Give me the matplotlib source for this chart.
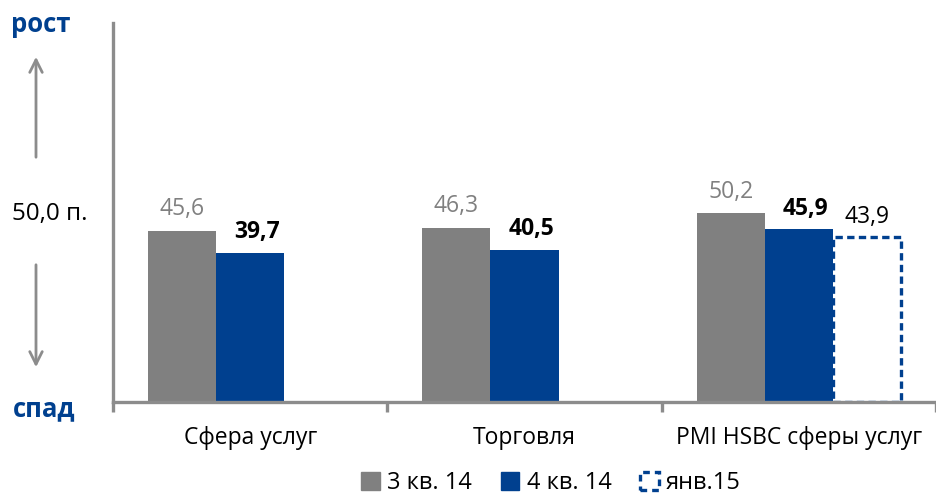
"""PMI bars: services vs trade, Q3/Q4 2014 and Jan 2015."""

import matplotlib

matplotlib.use("Agg")
import matplotlib.pyplot as plt
import numpy as np
from matplotlib.patches import Patch

categories = ["Сфера услуг", "Торговля", "PMI HSBC сферы услуг"]
q3_values = [45.6, 46.3, 50.2]
q4_values = [39.7, 40.5, 45.9]
jan_values = [None, None, 43.9]
series_labels = ["3 кв. 14", "4 кв. 14", "янв.15"]

GRAY = "#808080"
BLUE = "#00408f"
AXIS = "#8c8c8c"

plt.rcParams["font.family"] = ["Open Sans", "DejaVu Sans"]


def fmt(v):
    return f"{v:.1f}".replace(".", ",")


def main() -> None:
    fig = plt.figure(figsize=(9.37, 4.94), dpi=100)
    ax = fig.add_axes([113 / 937, 92 / 494, 823 / 937, 379 / 494])

    x = np.arange(len(categories))
    width = 0.248

    ax.bar(x - width, q3_values, width, color=GRAY, zorder=2)
    ax.bar(x, q4_values, width, color=BLUE, zorder=2)
    for i, v in enumerate(jan_values):
        if v is None:
            continue
        ax.bar(x[i] + width, v, width, facecolor="white", edgecolor=BLUE,
               linewidth=2.4, linestyle=(0, (2.2, 1.3)), zorder=1)

    for i in range(len(categories)):
        ax.annotate(fmt(q3_values[i]), (x[i] - width, q3_values[i]), xytext=(0, 7),
                    textcoords="offset points", ha="center", va="bottom", fontsize=16.5, color=GRAY)
        ax.annotate(fmt(q4_values[i]), (x[i] + 0.025, q4_values[i]), xytext=(0, 6),
                    textcoords="offset points", ha="center", va="bottom", fontsize=16.5,
                    color="black", fontweight="bold")
        if jan_values[i] is not None:
            ax.annotate(fmt(jan_values[i]), (x[i] + width, jan_values[i]), xytext=(0, 6),
                        textcoords="offset points", ha="center", va="bottom", fontsize=16.5, color="black")

    ax.set_xlim(-0.5, len(categories) - 0.5)
    ax.set_ylim(0, 100.8)
    ax.set_yticks([])
    ax.set_xticks(x, categories, fontsize=16.5)
    ax.tick_params(axis="x", which="major", length=0, pad=17)
    ax.set_xticks(np.arange(len(categories) + 1) - 0.5, minor=True)
    ax.tick_params(axis="x", which="minor", length=7, width=2.4, color=AXIS)
    for side in ("top", "right"):
        ax.spines[side].set_visible(False)
    for side in ("left", "bottom"):
        ax.spines[side].set_color(AXIS)
        ax.spines[side].set_linewidth(2.4)
        ax.spines[side].set_zorder(3)

    # left-hand annotations
    fig.text(11 / 937, 1 - 24 / 494, "рост", color=BLUE, fontsize=18.5, fontweight="bold", va="center")
    fig.text(13 / 937, 1 - 409 / 494, "спад", color=BLUE, fontsize=18.5, fontweight="bold", va="center")
    fig.text(12 / 937, 1 - 214 / 494, "50,0 п.", color="black", fontsize=17.5, va="center")
    arrow = dict(arrowstyle="->,head_length=0.9,head_width=0.45", color=AXIS, linewidth=2)
    fig.add_artist(matplotlib.patches.FancyArrowPatch(
        (36 / 937, 1 - 160 / 494), (36 / 937, 1 - 54 / 494), transform=fig.transFigure,
        mutation_scale=10, **arrow))
    fig.add_artist(matplotlib.patches.FancyArrowPatch(
        (36 / 937, 1 - 262 / 494), (36 / 937, 1 - 370 / 494), transform=fig.transFigure,
        mutation_scale=10, **arrow))

    handles = [
        Patch(facecolor=GRAY, edgecolor=GRAY),
        Patch(facecolor=BLUE, edgecolor=BLUE),
        Patch(facecolor="white", edgecolor=BLUE, linewidth=2.4, linestyle=(0, (2, 1.5))),
    ]
    fig.legend(handles, series_labels, loc="center", bbox_to_anchor=(551 / 937, 11 / 494),
               ncol=3, frameon=False, fontsize=17, handlelength=0.8, handleheight=0.8,
               handletextpad=0.3, columnspacing=1.2)

    fig.savefig("out.png", dpi=100)


if __name__ == "__main__":
    main()
